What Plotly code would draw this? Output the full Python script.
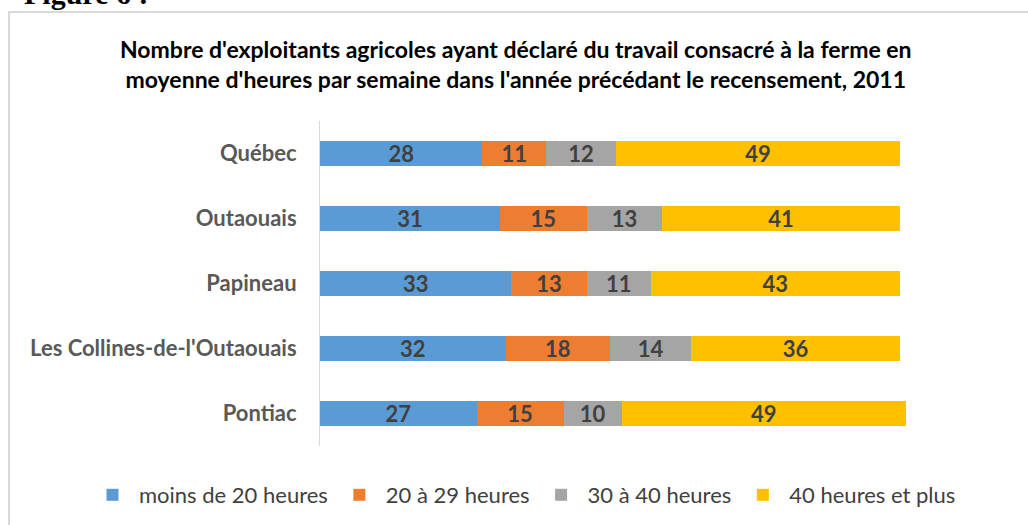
import plotly.graph_objects as go

regions = ["Québec", "Outaouais", "Papineau", "Les Collines-de-l'Outaouais", "Pontiac"]
series_names = ["moins de 20 heures", "20 à 29 heures", "30 à 40 heures", "40 heures et plus"]
moins_20 = [28, 31, 33, 32, 27]
de_20_29 = [11, 15, 13, 18, 15]
de_30_40 = [12, 13, 11, 14, 10]
plus_40 = [49, 41, 43, 36, 49]
colors = ["#5B9BD5", "#ED7D31", "#A5A5A5", "#FFC000"]

title = ("Nombre d'exploitants agricoles ayant déclaré du travail consacré à la ferme en<br>"
         "moyenne d'heures par semaine dans l'année précédant le recensement, 2011")

W, H = 1028, 525
L, R, T, B = 320, 12, 121, 79
pw, ph = W - L - R, H - T - B

def px_x(x):
    return (x - L) / pw

def px_y(y):
    return 1 - (y - T) / ph

fig = go.Figure()
for name, vals, col in zip(series_names, [moins_20, de_20_29, de_30_40, plus_40], colors):
    fig.add_trace(go.Bar(
        y=regions, x=vals, name=name, orientation="h",
        marker=dict(color=col, line=dict(width=0)),
        text=vals, textposition="inside", insidetextanchor="middle",
        textangle=0, constraintext="none",
        textfont=dict(family="Lato", size=22, color="#404040", weight="bold"),
        hoverinfo="skip",
    ))

fig.update_layout(
    width=W, height=H, barmode="stack", bargap=0.615,
    margin=dict(l=L, r=R, t=T, b=B, autoexpand=False),
    plot_bgcolor="white", paper_bgcolor="white",
    font=dict(family="Lato", color="#404040"),
    xaxis=dict(range=[0, 120], visible=False, fixedrange=True),
    yaxis=dict(autorange="reversed", showline=True, linecolor="#D9D9D9", linewidth=1,
               ticks="", ticklabelstandoff=18, automargin=False,
               tickfont=dict(family="Lato", size=22, color="#595959", weight="bold")),
    legend=dict(orientation="h", x=px_x(86), xanchor="left", y=px_y(495), yanchor="middle",
                font=dict(family="Lato", size=22, color="#404040"),
                itemwidth=43, traceorder="normal"),
    showlegend=True,
)

fig.add_annotation(text=title, xref="paper", yref="paper", x=px_x(516), y=px_y(64),
                   xanchor="center", yanchor="middle", showarrow=False, align="center",
                   font=dict(family="Lato", size=23, color="#000000", weight="bold"))

fig.add_annotation(text="Figure 6 :", xref="paper", yref="paper", x=px_x(22), y=px_y(12),
                   xanchor="left", yanchor="bottom", showarrow=False,
                   font=dict(family="Liberation Serif", size=30, color="#000000", weight="bold"))

fig.add_shape(type="rect", xref="paper", yref="paper",
              x0=px_x(9), x1=px_x(1040), y0=px_y(12), y1=px_y(540),
              line=dict(color="#D9D9D9", width=2), fillcolor="rgba(0,0,0,0)", layer="below")

fig.write_html("out.html", config={"displayModeBar": False},
               post_script="document.body.style.margin='0';")
